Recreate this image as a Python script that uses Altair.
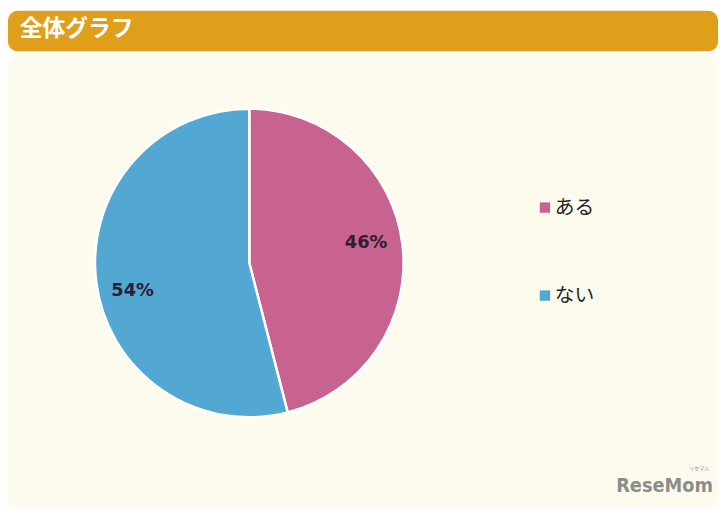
import altair as alt
import pandas as pd

categories = ["ある", "ない"]
values = [46, 54]
labels = ["46%", "54%"]
colors = ["#C8628F", "#52A7D3"]
title_text = "全体グラフ"

df = pd.DataFrame({"cat": categories, "val": values, "label": labels, "order": [0, 1]})

W, H = 720, 500
cx, cy, R = 244, 255, 156

bg_df = pd.DataFrame({"a": [0]})

header = alt.Chart(bg_df).mark_rect(color="#E09F1B", cornerRadius=10).encode(
    x=alt.value(0), x2=alt.value(718), y=alt.value(0), y2=alt.value(41)
)
panel = alt.Chart(bg_df).mark_rect(color="#FDFBEE", cornerRadius=14).encode(
    x=alt.value(0), x2=alt.value(718), y=alt.value(44), y2=alt.value(512)
)
title = alt.Chart(bg_df).mark_text(
    text=title_text, font="Noto Sans CJK JP", fontWeight="bold", fontSize=23,
    color="white", align="left", baseline="middle"
).encode(x=alt.value(12), y=alt.value(18))

base = alt.Chart(df)

pie = base.mark_arc(outerRadius=R, stroke="white", strokeWidth=2.5).encode(
    theta=alt.Theta("val:Q", stack=True),
    order=alt.Order("order:Q"),
    color=alt.Color(
        "cat:N",
        scale=alt.Scale(domain=categories, range=colors),
        sort=categories,
        legend=alt.Legend(
            title=None, orient="none", legendX=533, legendY=189,
            symbolType="square", symbolSize=110, symbolStrokeWidth=0,
            labelFontSize=20, labelFont="Noto Sans CJK JP", labelColor="#222222",
            labelOffset=0, rowPadding=69, padding=0,
        ),
    ),
    x=alt.value(cx), y=alt.value(cy),
)


def label_layer(cat, dy):
    return base.transform_window(
        cum="sum(val)", sort=[alt.SortField("order")]
    ).transform_calculate(
        mid="(datum.cum - datum.val / 2)"
    ).transform_filter(alt.datum.cat == cat).mark_text(
        radius=119, fontSize=18, fontWeight="bold", font="DejaVu Sans",
        color="#2a2030", baseline="middle", align="center", dy=dy
    ).encode(
        theta=alt.Theta("mid:Q", scale=alt.Scale(domain=[0, 100], range=[0, 6.283185307])),
        text="label:N",
        x=alt.value(cx), y=alt.value(cy),
    )


text1 = label_layer("ある", -5)
text2 = label_layer("ない", 14)

logo = alt.Chart(bg_df).mark_text(
    text="ReseMom", font="DejaVu Sans Condensed", fontWeight="bold", fontSize=20,
    color="#8C8C8C", align="left", baseline="middle"
).encode(x=alt.value(615), y=alt.value(481))
logo_small = alt.Chart(bg_df).mark_text(
    text="リセマム", font="Noto Sans CJK JP", fontSize=5,
    color="#8C8C8C", align="left", baseline="middle"
).encode(x=alt.value(689), y=alt.value(462))

chart = alt.layer(panel, header, title, pie, text1, text2, logo, logo_small).properties(
    width=W, height=H, padding=0, autosize="none", background="white"
).resolve_scale(theta="independent").configure_view(stroke=None)

chart.save("out.html", embed_options={"renderer": "svg", "actions": False})
